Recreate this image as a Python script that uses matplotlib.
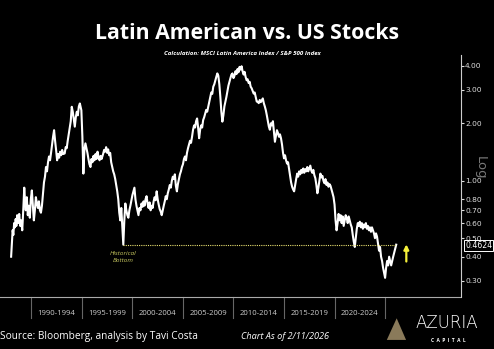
import matplotlib
matplotlib.use("Agg")
import matplotlib.pyplot as plt
from matplotlib.patches import Polygon

# ---- data ----
years = [
    1988.0, 1988.08, 1988.15, 1988.22, 1988.3, 1988.38, 1988.45, 1988.52, 1988.6, 1988.7,
    1988.8, 1988.9, 1989.0, 1989.1, 1989.2, 1989.3, 1989.38, 1989.45, 1989.55, 1989.65,
    1989.75, 1989.85, 1989.95, 1990.05, 1990.15, 1990.25, 1990.35, 1990.45, 1990.55, 1990.65,
    1990.75, 1990.85, 1990.95, 1991.05, 1991.15, 1991.25, 1991.35, 1991.45, 1991.55, 1991.65,
    1991.75, 1991.85, 1991.95, 1992.05, 1992.15, 1992.25, 1992.35, 1992.45, 1992.55, 1992.65,
    1992.75, 1992.85, 1992.95, 1993.05, 1993.15, 1993.3, 1993.4, 1993.5, 1993.6, 1993.7,
    1993.8, 1993.9, 1994.0, 1994.1, 1994.2, 1994.3, 1994.4, 1994.5, 1994.6, 1994.7,
    1994.8, 1994.9, 1994.95, 1995.05, 1995.15, 1995.25, 1995.35, 1995.45, 1995.55, 1995.65,
    1995.75, 1995.85, 1995.95, 1996.05, 1996.15, 1996.25, 1996.35, 1996.45, 1996.55, 1996.65,
    1996.75, 1996.85, 1996.95, 1997.1, 1997.2, 1997.3, 1997.4, 1997.5, 1997.6, 1997.7,
    1997.8, 1997.9, 1998.0, 1998.1, 1998.2, 1998.3, 1998.4, 1998.5, 1998.6, 1998.7,
    1998.8, 1998.9, 1999.0, 1999.1, 1999.2, 1999.3, 1999.4, 1999.5, 1999.6, 1999.7,
    1999.8, 1999.9, 2000.0, 2000.1, 2000.2, 2000.3, 2000.4, 2000.5, 2000.6, 2000.7,
    2000.8, 2000.9, 2001.0, 2001.1, 2001.2, 2001.3, 2001.4, 2001.5, 2001.6, 2001.7,
    2001.8, 2001.9, 2002.0, 2002.1, 2002.2, 2002.3, 2002.4, 2002.5, 2002.6, 2002.7,
    2002.8, 2002.9, 2003.0, 2003.1, 2003.2, 2003.3, 2003.4, 2003.5, 2003.6, 2003.7,
    2003.8, 2003.9, 2004.0, 2004.1, 2004.2, 2004.3, 2004.4, 2004.5, 2004.6, 2004.7,
    2004.8, 2004.9, 2005.0, 2005.1, 2005.2, 2005.3, 2005.4, 2005.5, 2005.6, 2005.7,
    2005.8, 2005.9, 2006.0, 2006.1, 2006.2, 2006.3, 2006.4, 2006.5, 2006.6, 2006.7,
    2006.8, 2006.9, 2007.0, 2007.1, 2007.2, 2007.3, 2007.4, 2007.5, 2007.6, 2007.7,
    2007.8, 2007.9, 2008.0, 2008.1, 2008.2, 2008.3, 2008.4, 2008.5, 2008.6, 2008.7,
    2008.8, 2008.9, 2009.0, 2009.1, 2009.2, 2009.3, 2009.4, 2009.5, 2009.6, 2009.7,
    2009.8, 2009.9, 2010.0, 2010.1, 2010.2, 2010.3, 2010.4, 2010.5, 2010.6, 2010.7,
    2010.8, 2010.9, 2011.0, 2011.1, 2011.2, 2011.3, 2011.4, 2011.5, 2011.6, 2011.7,
    2011.8, 2011.9, 2012.0, 2012.1, 2012.2, 2012.3, 2012.4, 2012.5, 2012.6, 2012.7,
    2012.8, 2012.9, 2013.0, 2013.1, 2013.2, 2013.3, 2013.4, 2013.5, 2013.6, 2013.7,
    2013.8, 2013.9, 2014.0, 2014.1, 2014.2, 2014.3, 2014.4, 2014.5, 2014.6, 2014.7,
    2014.8, 2014.9, 2015.0, 2015.1, 2015.2, 2015.3, 2015.4, 2015.5, 2015.6, 2015.7,
    2015.8, 2015.9, 2016.0, 2016.1, 2016.2, 2016.3, 2016.4, 2016.5, 2016.6, 2016.7,
    2016.8, 2016.9, 2017.0, 2017.1, 2017.2, 2017.3, 2017.4, 2017.5, 2017.6, 2017.7,
    2017.8, 2017.9, 2018.0, 2018.1, 2018.2, 2018.3, 2018.4, 2018.5, 2018.6, 2018.7,
    2018.8, 2018.9, 2019.0, 2019.1, 2019.2, 2019.3, 2019.4, 2019.5, 2019.6, 2019.7,
    2019.8, 2019.9, 2020.0, 2020.1, 2020.2, 2020.3, 2020.4, 2020.5, 2020.6, 2020.7,
    2020.8, 2020.9, 2021.0, 2021.1, 2021.2, 2021.3, 2021.4, 2021.5, 2021.6, 2021.7,
    2021.8, 2021.9, 2022.0, 2022.1, 2022.2, 2022.3, 2022.4, 2022.5, 2022.6, 2022.7,
    2022.8, 2022.9, 2023.0, 2023.1, 2023.2, 2023.3, 2023.4, 2023.5, 2023.6, 2023.7,
    2023.8, 2023.9, 2024.0, 2024.1, 2024.2, 2024.3, 2024.4, 2024.5, 2024.6, 2024.7,
    2024.8, 2024.9, 2025.0, 2025.1, 2025.2, 2025.3, 2025.4, 2025.5, 2025.6, 2025.7,
    2025.8, 2025.9, 2026.0, 2026.1]
ratio = [
    0.40, 0.47, 0.55, 0.52, 0.60, 0.57, 0.63, 0.58, 0.66, 0.60,
    0.67, 0.58, 0.62, 0.55, 0.70, 0.92, 0.78, 0.70, 0.82, 0.66,
    0.74, 0.64, 0.80, 0.89, 0.74, 0.62, 0.70, 0.82, 0.76, 0.72,
    0.78, 0.70, 0.68, 0.74, 0.85, 0.98, 1.05, 1.18, 1.12, 1.25,
    1.34, 1.28, 1.40, 1.55, 1.70, 1.84, 1.62, 1.45, 1.28, 1.38,
    1.32, 1.42, 1.36, 1.45, 1.38, 1.39, 1.50, 1.48, 1.62, 1.75,
    1.90, 2.05, 2.44, 2.30, 2.10, 1.92, 2.15, 2.30, 2.20, 2.45,
    2.54, 2.40, 2.34, 1.70, 1.09, 1.45, 1.57, 1.48, 1.40, 1.30,
    1.22, 1.18, 1.30, 1.25, 1.35, 1.28, 1.38, 1.30, 1.42, 1.33,
    1.28, 1.35, 1.30, 1.38, 1.45, 1.42, 1.50, 1.40, 1.46, 1.36,
    1.40, 1.25, 1.18, 1.12, 1.08, 1.02, 0.95, 0.88, 0.80, 0.68,
    0.62, 0.72, 0.58, 0.4624, 0.62, 0.76, 0.70, 0.66, 0.64, 0.70,
    0.74, 0.79, 0.84, 0.88, 0.92, 0.80, 0.74, 0.70, 0.66, 0.72,
    0.70, 0.76, 0.73, 0.78, 0.74, 0.80, 0.83, 0.76, 0.72, 0.77,
    0.70, 0.74, 0.72, 0.78, 0.82, 0.79, 0.88, 0.80, 0.75, 0.71,
    0.69, 0.66, 0.70, 0.74, 0.78, 0.83, 0.80, 0.86, 0.90, 0.95,
    0.92, 1.00, 1.05, 1.02, 1.08, 0.94, 0.88, 0.96, 1.02, 1.08,
    1.12, 1.18, 1.22, 1.30, 1.34, 1.28, 1.40, 1.48, 1.55, 1.62,
    1.58, 1.70, 1.85, 1.95, 1.90, 2.05, 2.12, 1.90, 1.67, 1.85,
    1.95, 1.90, 2.08, 2.15, 2.25, 2.35, 2.30, 2.44, 2.60, 2.75,
    2.90, 2.85, 3.11, 3.20, 3.35, 3.50, 3.65, 3.55, 3.20, 2.75,
    2.30, 2.04, 2.20, 2.45, 2.60, 2.75, 2.95, 3.15, 3.30, 3.45,
    3.60, 3.65, 3.45, 3.55, 3.75, 3.62, 3.85, 3.70, 3.95, 3.82,
    3.98, 3.75, 3.60, 3.72, 3.50, 3.36, 3.40, 3.25, 3.30, 3.11,
    3.05, 2.95, 2.86, 2.90, 2.75, 2.60, 2.59, 2.55, 2.65, 2.58,
    2.64, 2.70, 2.55, 2.45, 2.34, 2.20, 2.05, 1.92, 1.85, 2.00,
    1.95, 2.05, 1.80, 1.60, 1.72, 1.84, 1.78, 1.70, 1.75, 1.67,
    1.55, 1.40, 1.31, 1.36, 1.28, 1.23, 1.25, 1.15, 1.05, 0.98,
    0.93, 0.90, 0.88, 0.95, 1.02, 1.09, 1.05, 1.12, 1.08, 1.14,
    1.10, 1.16, 1.10, 1.15, 1.12, 1.18, 1.12, 1.16, 1.20, 1.13,
    1.10, 1.14, 1.07, 1.03, 0.95, 0.86, 0.92, 1.00, 1.09, 1.04,
    1.06, 1.00, 0.97, 1.02, 0.95, 0.98, 0.93, 0.96, 0.94, 0.90,
    0.86, 0.82, 0.75, 0.62, 0.55, 0.60, 0.67, 0.62, 0.66, 0.60,
    0.65, 0.58, 0.62, 0.66, 0.64, 0.60, 0.65, 0.62, 0.59, 0.57,
    0.52, 0.48, 0.45, 0.50, 0.56, 0.60, 0.58, 0.61, 0.57, 0.60,
    0.56, 0.59, 0.57, 0.60, 0.56, 0.58, 0.55, 0.57, 0.54, 0.57,
    0.55, 0.53, 0.50, 0.53, 0.51, 0.47, 0.43, 0.45, 0.40, 0.38,
    0.35, 0.33, 0.31, 0.35, 0.38, 0.36, 0.40, 0.38, 0.36, 0.38,
    0.40, 0.42, 0.44, 0.4624]
ytick_vals = [0.30, 0.40, 0.50, 0.60, 0.70, 0.80, 1.00, 2.00, 3.00, 4.00]
period_labels = ["1990-1994", "1995-1999", "2000-2004", "2005-2009",
                 "2010-2014", "2015-2019", "2020-2024"]
period_starts = [1990, 1995, 2000, 2005, 2010, 2015, 2020, 2025]
bottom_value = 0.4624
bottom_start = 1999.1
last_value = 0.4624

fig = plt.figure(figsize=(4.94, 3.49), dpi=100, facecolor="black")
ax = fig.add_axes([0.0, 0.149, 0.933, 0.693], facecolor="black")
ax.plot(years, ratio, color="white", lw=1.5)
ax.set_yscale("log")
ax.set_ylim(0.246, 4.55)
ax.set_xlim(1986.9, 2032.5)

ax.yaxis.tick_right()
ax.set_yticks(ytick_vals)
ax.set_yticklabels([f"{v:.2f}" for v in ytick_vals])
ax.yaxis.set_minor_locator(matplotlib.ticker.NullLocator())
ax.tick_params(axis="y", colors="#dddddd", labelsize=5.4, length=2, width=0.8, pad=1)
ax.set_xticks([])
for s in ["top", "left"]:
    ax.spines[s].set_visible(False)
ax.spines["right"].set_color("#cccccc")
ax.spines["right"].set_linewidth(0.8)
ax.spines["bottom"].set_color("#aaaaaa")
ax.spines["bottom"].set_linewidth(0.8)
ax.spines["bottom"].set_linestyle((0, (4, 1)))

# historical bottom dotted line
ax.plot([bottom_start, years[-1]], [bottom_value, bottom_value], color="#e8e070",
        lw=0.8, ls=(0, (1, 1)))
ax.text(bottom_start, 0.43, "Historical\nBottom", color="#c8c860", fontsize=4.6,
        style="italic", ha="center", va="top", linespacing=1.6,
        family="Open Sans")
# yellow arrow
ax.annotate("", xy=(2027.1, 0.48), xytext=(2027.1, 0.365),
            arrowprops=dict(arrowstyle="-|>", color="#f5f03a", lw=1.6,
                            mutation_scale=7))
# value label
ax.annotate(f"{last_value:.4f}", xy=(1.0, last_value),
            xycoords=("axes fraction", "data"), xytext=(3, -0.5),
            textcoords="offset points", fontsize=5.6, color="white", va="center",
            bbox=dict(boxstyle="square,pad=0.12", fc="black", ec="white", lw=0.7),
            zorder=10)
fig.text(0.972, 0.52, "Log", rotation=270, color="#777777", fontsize=9.5,
         ha="center", va="center")

# x period separators and labels
trans = ax.get_xaxis_transform()
for p in period_starts:
    ax.plot([p, p], [0, -0.085], transform=trans, color="#666666", lw=0.8,
            clip_on=False)
for i, lab in enumerate(period_labels):
    ax.text(period_starts[i] + 2.5, -0.068, lab, transform=trans, ha="center",
            va="center", color="#cccccc", fontsize=5.6, family="Open Sans")

fig.text(0.5, 0.905, "Latin American vs. US Stocks", color="white", fontsize=15.3,
         fontweight="bold", ha="center", va="center", family="Open Sans")
fig.text(0.49, 0.848, "Calculation: MSCI Latin America Index / S&P 500 Index",
         color="white", fontsize=4.4, fontweight="bold", style="italic",
         ha="center", va="center", family="Open Sans")
fig.text(0.0, 0.037, "Source: Bloomberg, analysis by Tavi Costa", color="white",
         fontsize=7.3, ha="left", va="center", family="Open Sans")
fig.text(0.488, 0.037, "Chart As of 2/11/2026", color="white", fontsize=6.6,
         style="italic", ha="left", va="center", family="Open Sans")
fig.text(0.905, 0.075, "AZURIA", color="white", fontsize=12, ha="center",
         va="center", family="DejaVu Sans", fontweight="light")
fig.text(0.907, 0.025, "C  A  P  I  T  A  L", color="white", fontsize=3.5,
         ha="center", va="center", family="Open Sans", fontweight="bold")
tri = Polygon([[0.783, 0.026], [0.822, 0.026], [0.803, 0.088]], closed=True,
              transform=fig.transFigure, facecolor="#8a7a5a", edgecolor="none")
fig.add_artist(tri)

fig.savefig("out.png", dpi=100, facecolor="black")
